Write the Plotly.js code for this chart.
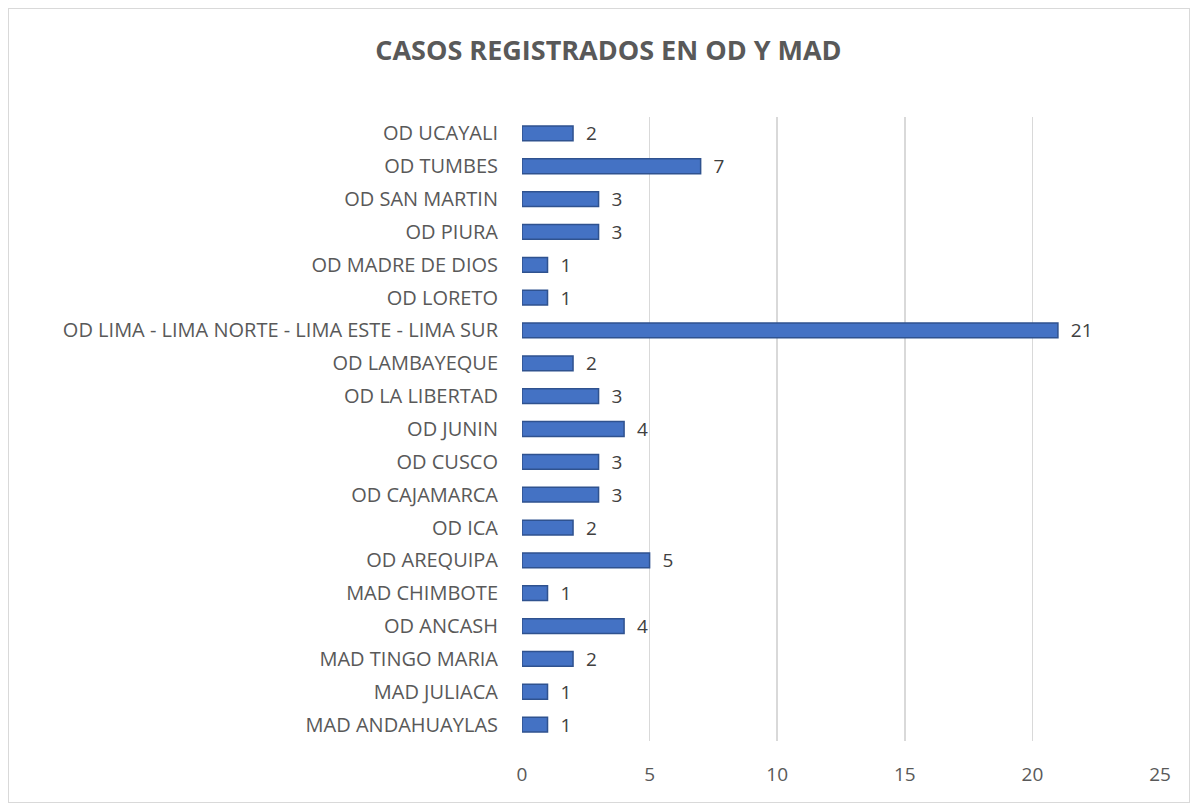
<!DOCTYPE html>
<html>
<head>
<meta charset="utf-8">
<script src="https://cdn.plot.ly/plotly-3.0.1.min.js"></script>
<style>
  html, body { margin: 0; padding: 0; background: #ffffff; }
  #frame { position: absolute; left: 8px; top: 8px; width: 1182px; height: 795px; box-sizing: border-box; border: 1px solid #d9d9d9; background: #fff; }
  #chart { width: 1180px; height: 793px; }
</style>
</head>
<body>
<div id="frame"><div id="chart"></div></div>
<script>
const chartTitle = "CASOS REGISTRADOS EN OD Y MAD";
const categories = [
  "OD UCAYALI",
  "OD TUMBES",
  "OD SAN MARTIN",
  "OD PIURA",
  "OD MADRE DE DIOS",
  "OD LORETO",
  "OD LIMA - LIMA NORTE - LIMA ESTE - LIMA SUR",
  "OD LAMBAYEQUE",
  "OD LA LIBERTAD",
  "OD JUNIN",
  "OD CUSCO",
  "OD CAJAMARCA",
  "OD ICA",
  "OD AREQUIPA",
  "MAD CHIMBOTE",
  "OD ANCASH",
  "MAD TINGO MARIA",
  "MAD JULIACA",
  "MAD ANDAHUAYLAS"
];
const casos = [2, 7, 3, 3, 1, 1, 21, 2, 3, 4, 3, 3, 2, 5, 1, 4, 2, 1, 1];
const xTicks = [0, 5, 10, 15, 20, 25];

const FONT = "'Open Sans', sans-serif";

const trace = {
  type: "bar",
  orientation: "h",
  y: categories,
  x: casos,
  text: casos.map(v => "  " + v),
  textposition: "outside",
  constraintext: "none",
  cliponaxis: false,
  textfont: { family: FONT, size: 19, color: "#404040" },
  outsidetextfont: { family: FONT, size: 19, color: "#404040" },
  marker: { color: "#4472C4", line: { color: "#2F528F", width: 1.5 } },
  hoverinfo: "x+y"
};

const layout = {
  width: 1180,
  height: 793,
  paper_bgcolor: "#ffffff",
  plot_bgcolor: "#ffffff",
  margin: { l: 513, r: 29, t: 108, b: 61 },
  title: {
    text: "<b>" + chartTitle + "</b>",
    x: 0.508, xanchor: "center",
    y: 0.948, yanchor: "middle",
    font: { family: FONT, size: 27, color: "#595959" }
  },
  bargap: 0.55,
  showlegend: false,
  xaxis: {
    range: [0, 25],
    tickvals: xTicks,
    showgrid: true,
    gridcolor: "#d9d9d9",
    gridwidth: 1.5,
    zeroline: false,
    showline: false,
    ticks: "",
    ticklabelstandoff: 20,
    tickfont: { family: FONT, size: 19, color: "#595959" },
    fixedrange: true
  },
  yaxis: {
    autorange: "reversed",
    showgrid: false,
    zeroline: false,
    showline: false,
    ticks: "",
    ticklabelstandoff: 23,
    tickfont: { family: FONT, size: 20, color: "#595959" },
    fixedrange: true
  }
};

Plotly.newPlot("chart", [trace], layout, { displayModeBar: false, staticPlot: true });
</script>
</body>
</html>
